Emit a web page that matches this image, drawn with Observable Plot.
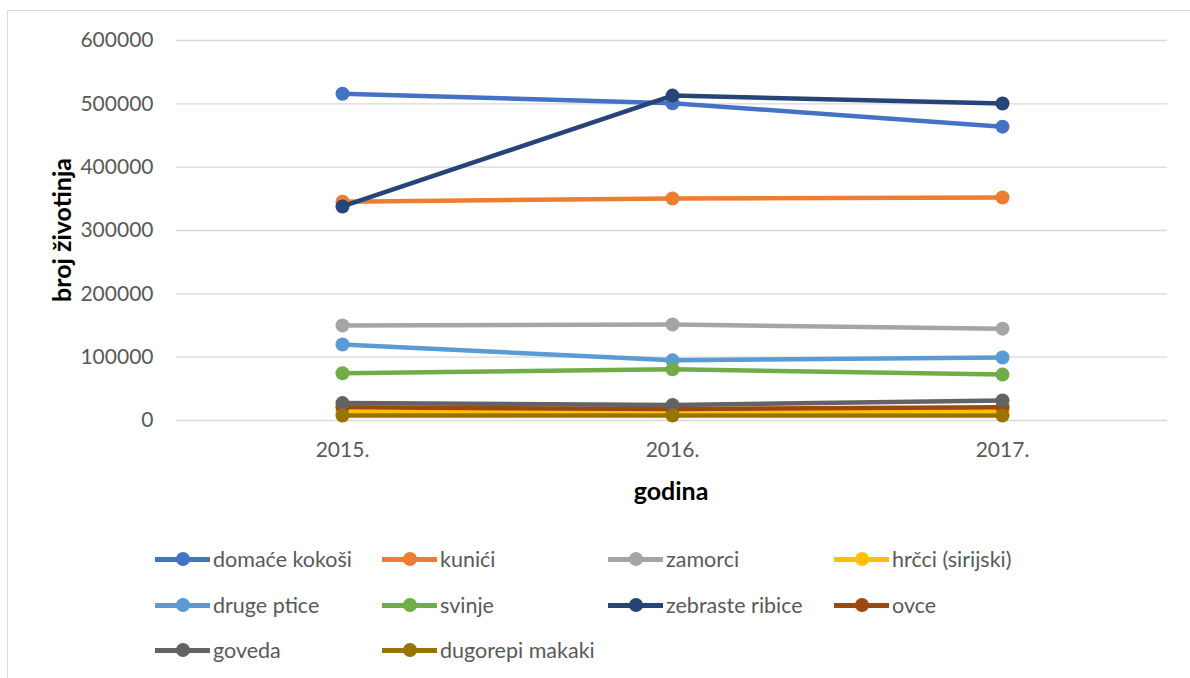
<!DOCTYPE html>
<html>
<head>
<meta charset="utf-8">
<script src="https://cdn.jsdelivr.net/npm/d3@7"></script>
<script src="https://cdn.jsdelivr.net/npm/@observablehq/plot@0.6"></script>
<style>
  html, body { margin: 0; padding: 0; background: #fff; overflow: hidden; width: 1190px; height: 678px; }
  #frame { position: absolute; left: 7px; top: 10px; width: 1200px; height: 700px; border: 1.5px solid #d9d9d9; box-sizing: border-box; }
  #chart { position: absolute; left: 0; top: 0; }
  .ytitle { position: absolute; left: 61px; top: 230px; transform: translate(-50%, -50%) rotate(-90deg); font: bold 25px Lato, sans-serif; color: #000; white-space: nowrap; }
  .xtitle { position: absolute; left: 671px; top: 490px; transform: translate(-50%, -50%); font: bold 25px Lato, sans-serif; color: #000; white-space: nowrap; }
  #legend { position: absolute; left: 155px; top: 546px; width: 920px; }
  .item { position: absolute; display: flex; align-items: center; font: 21.5px Lato, sans-serif; color: #595959; white-space: nowrap; }
  .sw { position: relative; width: 55px; height: 14px; margin-right: 3px; }
  .sw .ln { position: absolute; left: 0; right: 0; top: 5px; height: 4.5px; }
  .sw .dt { position: absolute; left: 21px; top: 0; width: 14px; height: 14px; border-radius: 50%; }
</style>
</head>
<body>
<div id="frame"></div>
<div id="chart"></div>
<div class="ytitle">broj životinja</div>
<div class="xtitle">godina</div>
<div id="legend"></div>
<script>
const years = ["2015.", "2016.", "2017."];
const seriesNames = ["domaće kokoši", "kunići", "zamorci", "hrčci (sirijski)", "druge ptice", "svinje", "zebraste ribice", "ovce", "goveda", "dugorepi makaki"];
const seriesColors = ["#4472C4", "#ED7D31", "#A5A5A5", "#FFC000", "#5B9BD5", "#70AD47", "#264478", "#9E480E", "#636363", "#997300"];
const domaceKokosi = [516000, 501000, 464000];
const kunici = [345500, 350500, 352000];
const zamorci = [150000, 151500, 145000];
const hrcci = [13000, 14500, 14500];
const drugePtice = [120000, 95000, 99500];
const svinje = [74500, 81000, 72500];
const zebrasteRibice = [338000, 513000, 500500];
const ovce = [21000, 18000, 21000];
const goveda = [27500, 24500, 31500];
const dugorepiMakaki = [8000, 8000, 8000];
const yTicks = [0, 100000, 200000, 300000, 400000, 500000, 600000];

const seriesValues = [domaceKokosi, kunici, zamorci, hrcci, drugePtice, svinje, zebrasteRibice, ovce, goveda, dugorepiMakaki];
const data = [];
seriesNames.forEach((name, i) => years.forEach((yr, j) => data.push({series: name, year: yr, value: seriesValues[i][j]})));

const marks = [
  Plot.gridY(yTicks, {stroke: "#d9d9d9", strokeOpacity: 1, strokeWidth: 1.3}),
  Plot.axisY(yTicks, {tickSize: 0, tickPadding: 23, tickFormat: d => String(d), fontSize: 21, fill: "#595959", label: null}),
  Plot.axisX({tickSize: 0, tickPadding: 22, fontSize: 21, fill: "#595959", label: null})
];
seriesNames.forEach(name => {
  const sub = data.filter(d => d.series === name);
  marks.push(Plot.line(sub, {x: "year", y: "value", stroke: "series", strokeWidth: 4.5, curve: "linear"}));
  marks.push(Plot.dot(sub, {x: "year", y: "value", fill: "series", r: 7, stroke: "none"}));
});

const chart = Plot.plot({
  width: 1190,
  height: 480,
  marginTop: 40,
  marginBottom: 60,
  marginLeft: 176,
  marginRight: 23,
  style: {fontFamily: "Lato, sans-serif", background: "transparent", overflow: "visible"},
  x: {type: "point", domain: years, padding: 0.5},
  y: {domain: [0, 600000]},
  color: {domain: seriesNames, range: seriesColors},
  marks
});
document.getElementById("chart").appendChild(chart);

const legend = document.getElementById("legend");
const colX = [0, 227, 453, 679];
const rowY = [0, 46, 91];
seriesNames.forEach((name, i) => {
  const it = document.createElement("div");
  it.className = "item";
  it.style.left = colX[i % 4] + "px";
  it.style.top = rowY[Math.floor(i / 4)] + "px";
  const sw = document.createElement("div");
  sw.className = "sw";
  const ln = document.createElement("div"); ln.className = "ln"; ln.style.background = seriesColors[i];
  const dt = document.createElement("div"); dt.className = "dt"; dt.style.background = seriesColors[i];
  sw.appendChild(ln); sw.appendChild(dt);
  const tx = document.createElement("span"); tx.textContent = name;
  it.appendChild(sw); it.appendChild(tx);
  legend.appendChild(it);
});
</script>
</body>
</html>
